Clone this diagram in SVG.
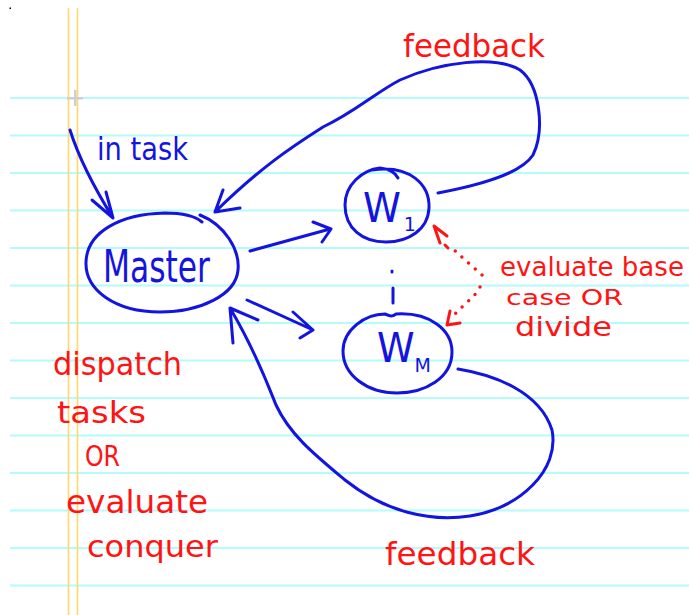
<svg xmlns="http://www.w3.org/2000/svg" width="689" height="615" viewBox="0 0 689 615">
<style>
.rule{stroke:#b4fbfb;stroke-width:2}
.margin{stroke:#ffd86a;stroke-width:1.6}
.ink{fill:none;stroke:#1414e0;stroke-width:3;stroke-linecap:round;stroke-linejoin:round}
.red{fill:none;stroke:#ff1414;stroke-width:3;stroke-linecap:round;stroke-linejoin:round}
.dots{fill:none;stroke:#ff1414;stroke-width:3.5;stroke-linecap:round;stroke-dasharray:0 9}
.bt{fill:#1414e0;font-family:"DejaVu Sans",sans-serif}
.rt{fill:#ff1414;font-family:"DejaVu Sans",sans-serif}
</style>
<rect width="689" height="615" fill="#ffffff"/>
<g id="paper">
<line class="rule" x1="10" y1="98" x2="689" y2="98"/>
<line class="rule" x1="10" y1="135.5" x2="689" y2="135.5"/>
<line class="rule" x1="10" y1="173" x2="689" y2="173"/>
<line class="rule" x1="10" y1="210.5" x2="689" y2="210.5"/>
<line class="rule" x1="10" y1="248" x2="689" y2="248"/>
<line class="rule" x1="10" y1="285.5" x2="689" y2="285.5"/>
<line class="rule" x1="10" y1="323" x2="689" y2="323"/>
<line class="rule" x1="10" y1="360.5" x2="689" y2="360.5"/>
<line class="rule" x1="10" y1="398" x2="689" y2="398"/>
<line class="rule" x1="10" y1="435.5" x2="689" y2="435.5"/>
<line class="rule" x1="10" y1="473" x2="689" y2="473"/>
<line class="rule" x1="10" y1="510.5" x2="689" y2="510.5"/>
<line class="rule" x1="10" y1="548" x2="689" y2="548"/>
<line class="rule" x1="10" y1="585.5" x2="689" y2="585.5"/>
<line class="margin" x1="68.5" y1="8" x2="68.5" y2="615"/>
<line class="margin" x1="77.5" y1="8" x2="77.5" y2="615"/>
<rect x="74" y="90" width="2.5" height="16" fill="#cfcfcf"/>
<rect x="67" y="97" width="16" height="2.5" fill="#cfcfcf"/>
<rect x="9.5" y="7.5" width="1.5" height="1.5" fill="#000"/>
</g>
<g id="master">
<path class="ink" d="M200,215 C225,225 240,250 238,270 C236,295 200,312 160,312 C115,312 85,290 86,262 C87,232 120,214 165,213 C180,213 195,216 202,222"/>
<text class="bt" x="103" y="282" font-size="44" textLength="107" lengthAdjust="spacingAndGlyphs">Master</text>
</g>
<g id="w1">
<path class="ink" d="M372,170 C410,164 430,185 429,208 C428,230 408,242 386,242 C362,242 345,228 345,205 C345,185 362,170 380,168 C390,169 395,172 398,178"/>
<text class="bt" x="363" y="222" font-size="40" textLength="53" lengthAdjust="spacingAndGlyphs">W<tspan font-size="20" dy="9" dx="3">1</tspan></text>
</g>
<g id="wm">
<path class="ink" d="M343,351 C343,330 365,314 385,314 C390,316 392,317 396,314 C430,312 452,330 452,352 C452,378 425,393 397,393 C367,393 343,375 343,351 Z"/>
<text class="bt" x="377" y="362" font-size="40" textLength="54" lengthAdjust="spacingAndGlyphs">W<tspan font-size="20" dy="10">M</tspan></text>
</g>
<g id="connectors">
<path class="ink" d="M70,130 Q82,168 113,218 M92,200 L113,218 L106,192"/>
<path class="ink" d="M250,251 L330,229 M313,222 L331,229 L322,242"/>
<path class="ink" d="M247,300 L313,330 M293,312 L313,330 L300,338"/>
<path class="ink" d="M438,193 C475,186 520,175 533,155 C545,130 540,85 520,70 C495,55 440,62 400,80 C375,93 355,112 323,127 C290,148 260,168 215,212 M223,190 L215,212 L240,208"/>
<path class="ink" d="M458,369 C495,375 540,392 552,430 C560,470 520,508 470,516 C430,522 385,512 345,480 C315,455 290,435 276,405 C268,385 255,350 230,308 M233,343 L230,308 L258,320"/>
<path class="ink" d="M392,271 L392,272 M393,288 L393,303"/>
<path class="dots" d="M482,275 L465,260 L450,246"/>
<path class="red" d="M448,248 L445,245 M447,236 L434,226 L440,243"/>
<path class="dots" d="M480,287 L474,296 L463,306 L455,314"/>
<path class="red" d="M450,311 L447,325 L460,323"/>
</g>
<g id="labels">
<text class="bt" x="97" y="160" font-size="32" textLength="91" lengthAdjust="spacingAndGlyphs">in task</text>
<text class="rt" x="403" y="57" font-size="32" textLength="142" lengthAdjust="spacingAndGlyphs">feedback</text>
<text class="rt" x="385" y="565" font-size="32" textLength="150" lengthAdjust="spacingAndGlyphs">feedback</text>
<text class="rt" x="500" y="276" font-size="26" textLength="184" lengthAdjust="spacingAndGlyphs">evaluate base</text>
<text class="rt" x="506" y="305" font-size="22" textLength="117" lengthAdjust="spacingAndGlyphs">case OR</text>
<text class="rt" x="515" y="336" font-size="26" textLength="97" lengthAdjust="spacingAndGlyphs">divide</text>
<text class="rt" x="53" y="375" font-size="32" textLength="129" lengthAdjust="spacingAndGlyphs">dispatch</text>
<text class="rt" x="57" y="423" font-size="30" textLength="89" lengthAdjust="spacingAndGlyphs">tasks</text>
<text class="rt" x="85" y="466" font-size="28" textLength="35" lengthAdjust="spacingAndGlyphs">OR</text>
<text class="rt" x="66" y="513" font-size="32" textLength="142" lengthAdjust="spacingAndGlyphs">evaluate</text>
<text class="rt" x="87" y="557" font-size="30" textLength="131" lengthAdjust="spacingAndGlyphs">conquer</text>
</g>
</svg>
